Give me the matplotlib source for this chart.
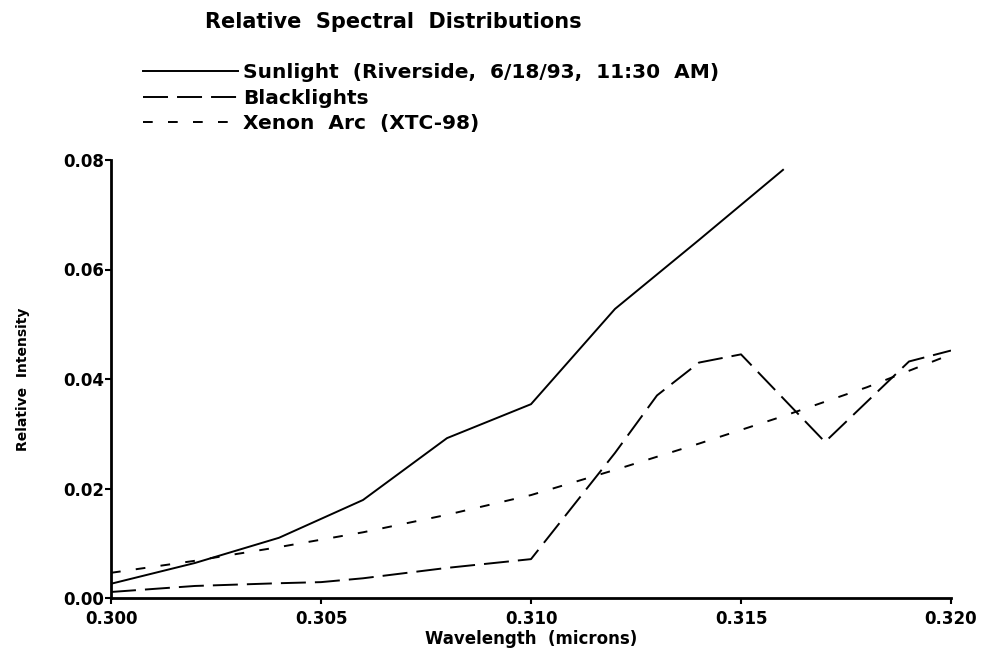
import numpy as np
import matplotlib
matplotlib.use('Agg')
import matplotlib.pyplot as plt

plt.rcParams['font.family'] = 'DejaVu Sans'
plt.rcParams['font.weight'] = 'bold'
plt.rcParams['lines.scale_dashes'] = False

# Wavelengths in microns and relative intensities for each source
sun_wl = [0.300, 0.302, 0.304, 0.306, 0.308, 0.310, 0.312, 0.314, 0.316]
sun_int = [0.0026, 0.0064, 0.0110, 0.0179, 0.0292, 0.0354, 0.0528, 0.0654, 0.0782]

black_wl = [0.300, 0.302, 0.304, 0.305, 0.306, 0.308, 0.310, 0.312, 0.313,
            0.314, 0.315, 0.317, 0.319, 0.320]
black_int = [0.0011, 0.0022, 0.0027, 0.0029, 0.0036, 0.0055, 0.0071, 0.0265, 0.0370,
             0.0430, 0.0445, 0.0285, 0.0432, 0.0452]

xenon_wl = [0.300, 0.302, 0.304, 0.306, 0.308, 0.310, 0.312, 0.314, 0.316, 0.318, 0.320]
xenon_int = [0.0046, 0.0068, 0.0093, 0.0120, 0.0152, 0.0188, 0.0234, 0.0282, 0.0332,
             0.0385, 0.0445]

labels = ['Sunlight  (Riverside,  6/18/93,  11:30  AM)', 'Blacklights', 'Xenon  Arc  (XTC-98)']

fig = plt.figure(figsize=(9.85, 6.53), dpi=100)
ax = fig.add_axes([111/985, 55/653, 840/985, 438/653])

l1, = ax.plot(sun_wl, sun_int, color='black', lw=1.4, label=labels[0])
l2, = ax.plot(black_wl, black_int, color='black', lw=1.4, dashes=(18, 6.5), label=labels[1])
l3, = ax.plot(xenon_wl, xenon_int, color='black', lw=1.4, dashes=(7, 11), label=labels[2])

ax.set_xlim(0.300, 0.320)
ax.set_ylim(0.0, 0.08)
ax.set_xticks([0.300, 0.305, 0.310, 0.315, 0.320])
ax.set_xticklabels(['0.300', '0.305', '0.310', '0.315', '0.320'])
ax.set_yticks([0.00, 0.02, 0.04, 0.06, 0.08])
ax.set_yticklabels(['0.00', '0.02', '0.04', '0.06', '0.08'])
ax.tick_params(axis='both', direction='out', length=4, width=1.5, labelsize=12)
ax.tick_params(axis='y', pad=1)
ax.tick_params(axis='x', pad=5)
for s in ['top', 'right']:
    ax.spines[s].set_visible(False)
for s in ['left', 'bottom']:
    ax.spines[s].set_linewidth(2)

ax.set_xlabel('Wavelength  (microns)', fontsize=12, fontweight='bold', labelpad=1)
ax.set_ylabel('Relative  Intensity', fontsize=10, fontweight='bold', labelpad=24)

fig.text(205/985, 1 - 22/653, 'Relative  Spectral  Distributions', fontsize=15,
         fontweight='bold', va='center', ha='left')

fig.legend(handles=[l1, l2, l3], loc='upper left', bbox_to_anchor=(143/985, 1 - 63/653),
           frameon=False, fontsize=14.5, handlelength=4.7, handletextpad=0.25,
           labelspacing=0.33, borderaxespad=0, borderpad=0)

fig.savefig('out.png', dpi=100)
